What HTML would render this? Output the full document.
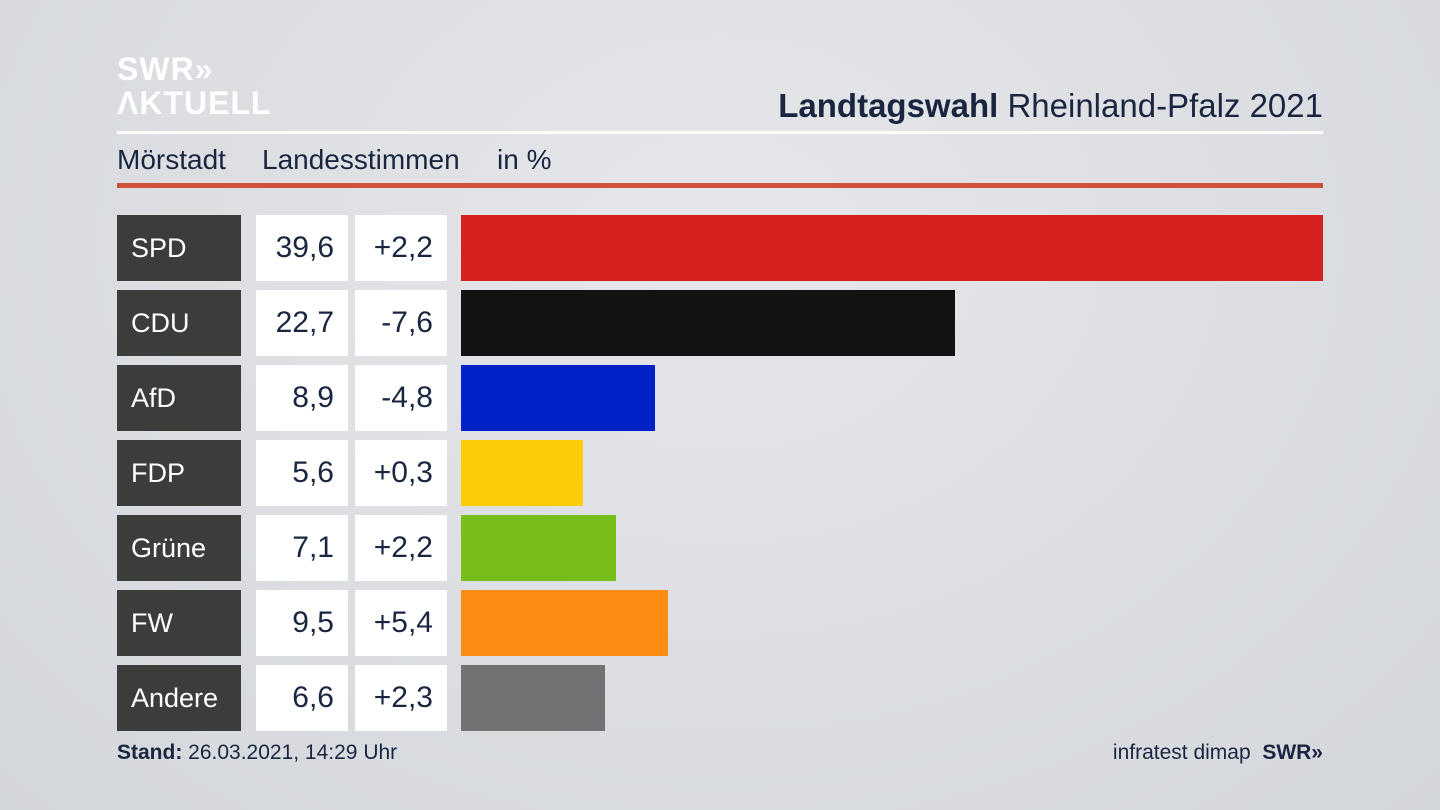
<!DOCTYPE html>
<html><head><meta charset="utf-8"><style>
body{margin:0;width:1440px;height:810px;overflow:hidden;background:radial-gradient(ellipse at 50% 30%,#e6e7ea,#d3d6db);font-family:"Liberation Sans",sans-serif;color:#1a2640;position:relative}
.a{position:absolute}
.lab{background:#3c3c3b;color:#fff;font-size:27px;line-height:66px;padding-left:14px;box-sizing:border-box}
.val{background:#fff;color:#1a2640;font-size:30px;line-height:66px;text-align:right;padding-right:14px;box-sizing:border-box}
.sub{position:absolute;top:144px;font-size:28px}
</style></head><body>
<div class="a" style="left:117px;top:52px;color:#fff;font-weight:bold;font-size:32px;line-height:34px;letter-spacing:1px">SWR»<br>ΛKTUELL</div>
<div class="a" style="right:117px;top:87px;font-size:33px"><b>Landtagswahl</b> Rheinland-Pfalz 2021</div>
<div class="a" style="left:117px;top:131px;width:1206px;height:3px;background:#fff"></div>
<div class="sub" style="left:117px">Mörstadt</div>
<div class="sub" style="left:262px">Landesstimmen</div>
<div class="sub" style="left:497px">in %</div>
<div class="a" style="left:117px;top:183px;width:1206px;height:5px;background:#d0503a"></div>
<div id="rows"></div>
<div class="a" style="left:117px;top:741px;font-size:21px"><b>Stand:</b> 26.03.2021, 14:29 Uhr</div>
<div class="a" style="right:117px;top:741px;font-size:21px">infratest dimap&nbsp; <b>SWR»</b></div>
<script>
const parties=["SPD","CDU","AfD","FDP","Grüne","FW","Andere"];
const values=[39.6,22.7,8.9,5.6,7.1,9.5,6.6];
const diffs=["+2,2","-7,6","-4,8","+0,3","+2,2","+5,4","+2,3"];
const colors=["#d61f1f","#121212","#0021c8","#fdcc08","#78be1a","#fd8c15","#717273"];
const x=v=>v*(862/39.6);
const c=document.getElementById('rows');
parties.forEach((p,i)=>{
 const y=215+i*75;
 const mk=(cls,l,w,t,bg)=>{const d=document.createElement('div');d.className='a '+cls;d.style.cssText=`left:${l}px;top:${y}px;width:${w}px;height:66px;`+(bg?`background:${bg}`:'');d.textContent=t;c.appendChild(d);return d;};
 const a=mk('lab',117,124,p);
 
 
 const b=mk('val',256,92,values[i].toFixed(1).replace('.',','));
 
 
 const d=mk('val',355,92,diffs[i]);
 
 
 const e=mk('',461,x(values[i]),'',colors[i]);
 
 
});
</script>
</body></html>
